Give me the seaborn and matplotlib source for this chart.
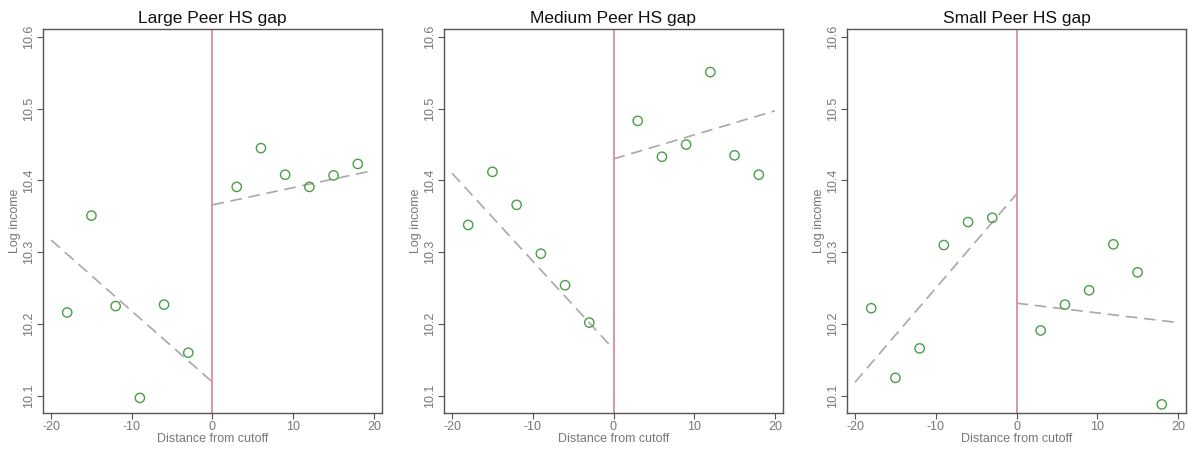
import matplotlib
matplotlib.use("Agg")
import matplotlib.pyplot as plt
import seaborn as sns
import pandas as pd

sns.set_theme(style="white")
plt.rcParams['font.family'] = ['Liberation Sans', 'DejaVu Sans']

titles = ["Large Peer HS gap", "Medium Peer HS gap", "Small Peer HS gap"]
distance = [-18, -15, -12, -9, -6, -3, 3, 6, 9, 12, 15, 18]

large_income = [10.216, 10.351, 10.225, 10.097, 10.227, 10.160,
                10.391, 10.445, 10.408, 10.391, 10.407, 10.423]
medium_income = [10.338, 10.412, 10.366, 10.298, 10.254, 10.202,
                 10.483, 10.433, 10.450, 10.551, 10.435, 10.408]
small_income = [10.222, 10.125, 10.166, 10.310, 10.342, 10.348,
                10.191, 10.227, 10.247, 10.311, 10.272, 10.088]

# fitted lines: (x start, x end) and (y start, y end) for left and right of cutoff
fit_left_x = [-20, 0]
fit_right_x = [0, 20]
large_fit_left = [10.317, 10.119]
large_fit_right = [10.366, 10.414]
medium_fit_left = [10.410, 10.165]
medium_fit_right = [10.430, 10.497]
small_fit_left = [10.119, 10.381]
small_fit_right = [10.229, 10.202]

x_ticks = [-20, -10, 0, 10, 20]
y_ticks = [10.1, 10.2, 10.3, 10.4, 10.5, 10.6]

incomes = [large_income, medium_income, small_income]
fits_left = [large_fit_left, medium_fit_left, small_fit_left]
fits_right = [large_fit_right, medium_fit_right, small_fit_right]

fig = plt.figure(figsize=(11.9, 4.51), dpi=100)
lefts = [43 / 1190, 444 / 1190, 847 / 1190]
w = 339 / 1190
b = 1 - 413 / 451
h = 384 / 451

frame_col = "#555555"
tick_col = "#777777"

for i in range(3):
    ax = fig.add_axes([lefts[i], b, w, h])
    df = pd.DataFrame({"x": distance, "y": incomes[i]})
    ax.axvline(0, color="#dc8aa8", lw=1.3, zorder=1)
    sns.lineplot(x=fit_left_x, y=fits_left[i], ax=ax, color="#a8a8a8",
                 lw=1.2, linestyle=(0, (7, 4)), zorder=2)
    sns.lineplot(x=fit_right_x, y=fits_right[i], ax=ax, color="#a8a8a8",
                 lw=1.2, linestyle=(0, (7, 4)), zorder=2)
    sns.scatterplot(data=df, x="x", y="y", ax=ax, marker="o", s=45,
                    facecolor="none", edgecolor="#4a9e4a", linewidth=1.0,
                    zorder=3)
    ax.set_xlim(-21, 21)
    ax.set_ylim(10.076, 10.611)
    ax.set_xticks(x_ticks)
    ax.set_yticks(y_ticks)
    ax.set_xticklabels([str(t) for t in x_ticks])
    ax.set_yticklabels([f"{t:.1f}" for t in y_ticks], rotation=90, va="center")
    ax.tick_params(axis="both", direction="out", length=4, width=0.8,
                   color=frame_col, labelcolor=tick_col, labelsize=9,
                   bottom=True, left=True, pad=2)
    ax.set_xlabel("Distance from cutoff", fontsize=9, color=tick_col, labelpad=0)
    ax.set_ylabel("Log income", fontsize=9, color=tick_col, labelpad=1)
    ax.set_title(titles[i], fontsize=12.5, color="#111111", pad=4)
    for sp in ax.spines.values():
        sp.set_color(frame_col)
        sp.set_linewidth(1.0)
    ax.grid(False)

fig.savefig("out.png", dpi=100, facecolor="white")
